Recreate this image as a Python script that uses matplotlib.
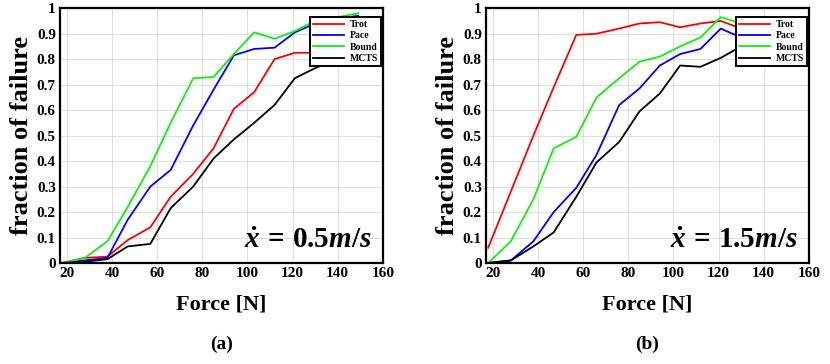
import numpy as np
import matplotlib.pyplot as plt

plt.rcParams['font.family'] = 'Liberation Serif'
plt.rcParams['font.weight'] = 'bold'
plt.rcParams['mathtext.fontset'] = 'custom'
plt.rcParams['mathtext.it'] = 'Liberation Serif:italic:bold'
plt.rcParams['mathtext.rm'] = 'Liberation Serif:bold'
plt.rcParams['mathtext.bf'] = 'Liberation Serif:bold'

# Force values (N)
force = [18, 28, 38, 47, 57, 66, 76, 85, 94, 103, 112, 121, 130, 140, 149]

# (a) x_dot = 0.5 m/s
trot_a = [0.0, 0.02, 0.025, 0.09, 0.14, 0.26, 0.35, 0.45, 0.605, 0.67, 0.80, 0.825, 0.825, 0.84, 0.85]
pace_a = [0.0, 0.01, 0.02, 0.17, 0.30, 0.365, 0.54, 0.68, 0.815, 0.84, 0.845, 0.905, 0.94, 0.96, 0.97]
bound_a = [0.0, 0.02, 0.085, 0.22, 0.38, 0.55, 0.725, 0.73, 0.82, 0.905, 0.88, 0.91, 0.95, 0.965, 0.98]
mcts_a = [0.0, 0.005, 0.015, 0.065, 0.075, 0.215, 0.30, 0.41, 0.485, 0.55, 0.62, 0.725, 0.765, 0.80, 0.82]

# (b) x_dot = 1.5 m/s
trot_b = [0.06, 0.28, 0.50, 0.69, 0.895, 0.90, 0.92, 0.94, 0.945, 0.925, 0.94, 0.95, 0.92, 0.93, 0.94]
pace_b = [0.0, 0.01, 0.085, 0.20, 0.295, 0.425, 0.62, 0.685, 0.775, 0.82, 0.84, 0.92, 0.885, 0.90, 0.92]
bound_b = [0.0, 0.085, 0.25, 0.45, 0.495, 0.65, 0.725, 0.79, 0.81, 0.85, 0.885, 0.965, 0.94, 0.95, 0.96]
mcts_b = [0.0, 0.01, 0.065, 0.12, 0.26, 0.395, 0.475, 0.595, 0.665, 0.775, 0.77, 0.805, 0.85, 0.87, 0.89]

labels = ['Trot', 'Pace', 'Bound', 'MCTS']
colors = ['#ff0000', '#0000ff', '#11ee11', '#000000']
x_ticks = [20, 40, 60, 80, 100, 120, 140, 160]
y_ticks = [0, 0.1, 0.2, 0.3, 0.4, 0.5, 0.6, 0.7, 0.8, 0.9, 1]
y_ticklabels = ['0', '0.1', '0.2', '0.3', '0.4', '0.5', '0.6', '0.7', '0.8', '0.9', '1']

panels = [
    ([trot_a, pace_a, bound_a, mcts_a], r'$\dot{x}\,=\,0.5m/s$', '(a)'),
    ([trot_b, pace_b, bound_b, mcts_b], r'$\dot{x}\,=\,1.5m/s$', '(b)'),
]
lefts = [0.0723, 0.5855]

fig = plt.figure(figsize=(8.3, 3.64), dpi=100)

for (series, note, tag), left in zip(panels, lefts):
    ax = fig.add_axes([left, 0.2775, 0.389, 0.70])
    for y, lab, c in zip(series, labels, colors):
        ax.plot(force, y, color=c, lw=1.3, label=lab)
    ax.set_xlim(17, 157)
    ax.set_ylim(0, 1)
    ax.set_xticks(x_ticks)
    ax.set_yticks(y_ticks)
    ax.set_yticklabels(y_ticklabels)
    ax.tick_params(length=0, labelsize=11, pad=3)
    for lbl in ax.get_xticklabels() + ax.get_yticklabels():
        lbl.set_fontweight('bold')
    ax.grid(True, color='#dddddd', lw=0.7)
    for sp in ax.spines.values():
        sp.set_linewidth(1.6)
    ax.set_ylabel('fraction of failure', fontsize=19, fontweight='bold', labelpad=3)
    ax.set_xlabel('Force [N]', fontsize=16, fontweight='bold', labelpad=10)
    ax.text(0.965, 0.09, note, transform=ax.transAxes, ha='right', va='center', fontsize=21)
    pos = ax.get_position()
    fig.text((pos.x0 + pos.x1) / 2, 0.055, tag, ha='center', va='center',
             fontsize=14, fontweight='bold')
    leg = ax.legend(loc='upper right', bbox_to_anchor=(0.995, 0.965), borderaxespad=0,
                    prop={'weight': 'bold', 'size': 7}, fancybox=False,
                    framealpha=1, edgecolor='black', handlelength=3.2,
                    labelspacing=0.25, borderpad=0.3, handletextpad=0.6)
    leg.get_frame().set_linewidth(1.4)

fig.savefig('out.png', dpi=100)
